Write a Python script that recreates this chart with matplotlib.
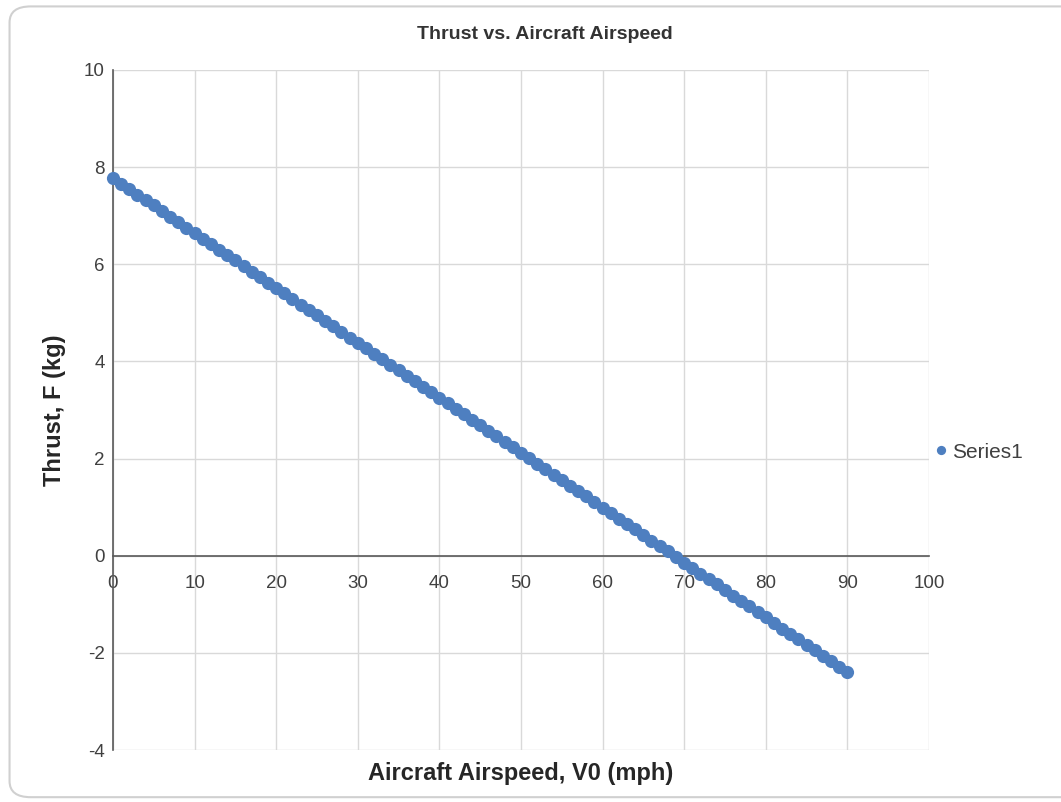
import matplotlib
matplotlib.use('Agg')
import matplotlib.pyplot as plt
from matplotlib.patches import FancyBboxPatch

plt.rcParams['font.family'] = ['Liberation Sans', 'DejaVu Sans']
plt.rcParams['axes.unicode_minus'] = False

# airspeed (mph) and thrust (kg)
airspeed = list(range(0, 91))
thrust = [
    7.77, 7.66, 7.54, 7.43, 7.32, 7.21, 7.09, 6.98, 6.87, 6.75,
    6.64, 6.53, 6.41, 6.30, 6.19, 6.08, 5.96, 5.85, 5.74, 5.62,
    5.51, 5.40, 5.28, 5.17, 5.06, 4.95, 4.83, 4.72, 4.61, 4.49,
    4.38, 4.27, 4.15, 4.04, 3.93, 3.82, 3.70, 3.59, 3.48, 3.36,
    3.25, 3.14, 3.02, 2.91, 2.80, 2.69, 2.57, 2.46, 2.35, 2.23,
    2.12, 2.01, 1.89, 1.78, 1.67, 1.56, 1.44, 1.33, 1.22, 1.10,
    0.99, 0.88, 0.76, 0.65, 0.54, 0.43, 0.31, 0.20, 0.09, -0.03,
    -0.14, -0.25, -0.37, -0.48, -0.59, -0.70, -0.82, -0.93, -1.04, -1.16,
    -1.27, -1.38, -1.50, -1.61, -1.72, -1.83, -1.95, -2.06, -2.17, -2.29,
    -2.40,
]
x_ticks = [0, 10, 20, 30, 40, 50, 60, 70, 80, 90, 100]
y_ticks = [-4, -2, 0, 2, 4, 6, 8, 10]

fig = plt.figure(figsize=(10.61, 8.02), dpi=100)
ax = fig.add_axes([0.1065, 0.0648, 0.769, 0.848])

# rounded chart-area border (Excel style)
fig.patches.append(FancyBboxPatch((0.009, 0.006), 1.05, 0.986,
                                  boxstyle="round,pad=0,rounding_size=0.02",
                                  transform=fig.transFigure, fc='none',
                                  ec='#d0d0d0', lw=1.5, clip_on=False))

ax.plot(airspeed, thrust, 'o', color='#4e7fc0', markersize=9.5,
        markeredgewidth=0, label='Series1', zorder=3, clip_on=False)

ax.set_xlim(0, 100)
ax.set_ylim(-4, 10)
ax.set_xticks(x_ticks)
ax.set_yticks(y_ticks)
ax.grid(True, color='#d9d9d9', lw=1)
ax.set_axisbelow(True)

for s in ['top', 'right']:
    ax.spines[s].set_visible(False)
ax.spines['bottom'].set_position(('data', 0))
ax.spines['bottom'].set_color('#595959')
ax.spines['left'].set_color('#595959')
ax.spines['left'].set_linewidth(1.2)
ax.spines['bottom'].set_linewidth(1.2)

ax.tick_params(axis='both', length=0, labelsize=13.5, labelcolor='#404040')
ax.tick_params(axis='x', pad=14)
ax.tick_params(axis='y', pad=6)

ax.set_title('Thrust vs. Aircraft Airspeed', fontsize=14, fontweight='bold',
             color='#333333', pad=22, x=0.529)
ax.set_xlabel('Aircraft Airspeed, V0 (mph)', fontsize=17, fontweight='bold',
              color='#262626')
ax.xaxis.set_label_coords(0.5, -0.017)
ax.set_ylabel('Thrust, F (kg)', fontsize=17, fontweight='bold', color='#262626')
ax.yaxis.set_label_coords(-0.058, 0.5)

ax.legend(loc='center left', bbox_to_anchor=(1.0, 0.438), frameon=False,
          fontsize=15, handletextpad=0.0, handlelength=1.0, markerscale=0.7,
          labelcolor='#404040', borderaxespad=0.0, borderpad=0.1)

fig.savefig('out.png', dpi=100)
